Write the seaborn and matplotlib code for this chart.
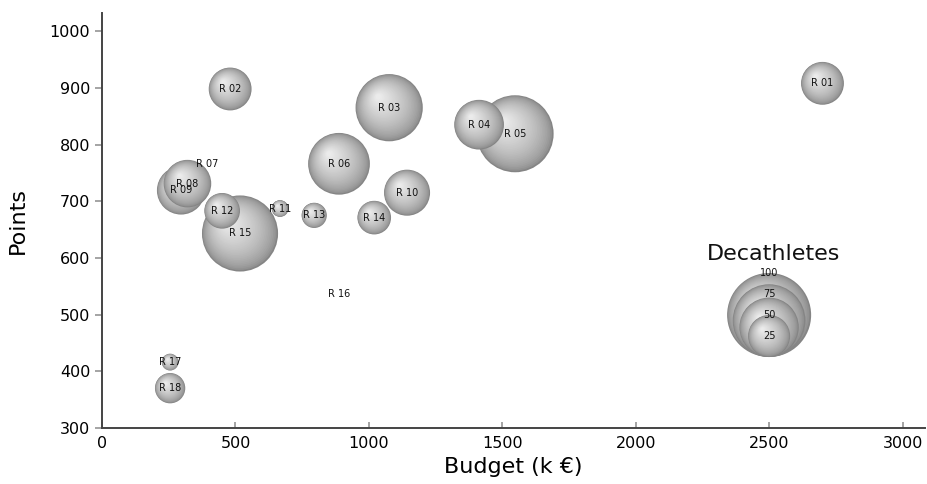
#!/usr/bin/env python3
"""Budget vs. points bubble chart, bubble area = number of decathletes."""

import matplotlib
matplotlib.use("Agg")
import matplotlib.pyplot as plt
import matplotlib.colors as mcolors
import numpy as np
import pandas as pd
import seaborn as sns

teams = ["R 01", "R 02", "R 03", "R 04", "R 05", "R 06", "R 07", "R 08", "R 09",
         "R 10", "R 11", "R 12", "R 13", "R 14", "R 15", "R 16", "R 17", "R 18"]
budget = [2700, 480, 1076, 1413, 1548, 888, 394, 320, 296,
          1143, 667, 450, 795, 1020, 517, 888, 255, 255]
points = [908, 898, 865, 835, 819, 766, 766, 731, 719,
          715, 687, 683, 675, 671, 643, 537, 416, 370]
decathletes = [26, 26, 64, 35, 84, 54, 0, 32, 33,
               30, 4, 18, 9, 16, 82, 0, 4, 13]

legend_values = [100, 75, 50, 25]
legend_x = 2500
legend_base = 425

DPI = 100
MAX_VALUE = 100
MAX_DIAM_PT = 60.5          # marker diameter (points) of a 100-athlete bubble
N_LAYERS = 30

sns.set_theme(style="white")
plt.rcParams["font.family"] = ["DejaVu Sans"]
plt.rcParams["text.color"] = "black"
plt.rcParams["axes.labelcolor"] = "black"
plt.rcParams["xtick.color"] = "black"
plt.rcParams["ytick.color"] = "black"

fig = plt.figure(figsize=(9.28, 4.84), dpi=DPI)
ax = fig.add_axes([0.110, 0.116, 0.887, 0.857])
ax.set_xlim(0, 3085)
ax.set_ylim(300, 1032)

# conversion from points to data units (for placing shaded layers)
pos = ax.get_position()
ax_w_pt = pos.width * fig.get_figwidth() * 72
ax_h_pt = pos.height * fig.get_figheight() * 72
x_per_pt = (ax.get_xlim()[1] - ax.get_xlim()[0]) / ax_w_pt
y_per_pt = (ax.get_ylim()[1] - ax.get_ylim()[0]) / ax_h_pt

df = pd.DataFrame({"team": teams, "budget": budget, "points": points,
                   "n": decathletes})

# legend spheres sit on a common baseline, centres lifted by their radius
leg = pd.DataFrame({"n": legend_values})
leg["budget"] = legend_x
leg["points"] = legend_base + (MAX_DIAM_PT / 2) * np.sqrt(leg["n"] / MAX_VALUE) * y_per_pt

bubbles = pd.concat([df[["budget", "points", "n"]], leg], ignore_index=True)
bubbles = bubbles[bubbles["n"] > 0].sort_values("n", ascending=False, kind="stable")

# build shaded layers: each bubble is a stack of shrinking, lighter discs
rows = []
for _, b in bubbles.iterrows():
    r_pt = (MAX_DIAM_PT / 2) * np.sqrt(b["n"] / MAX_VALUE)
    for k in range(N_LAYERS):
        f = 1 - 0.92 * k / (N_LAYERS - 1)
        shift = (1 - f) * r_pt * 0.35
        rows.append({
            "x": b["budget"] - shift * x_per_pt,
            "y": b["points"] + shift * y_per_pt,
            "s": (2 * r_pt * f) ** 2,
            "g": 0.52 + 0.42 * (1 - f) ** 0.6,
        })
layers = pd.DataFrame(rows)

gray_cmap = mcolors.LinearSegmentedColormap.from_list("gray_lin", ["black", "white"])
smax = MAX_DIAM_PT ** 2
sns.scatterplot(data=layers, x="x", y="y", size="s", sizes=(0, smax),
                size_norm=(0, smax), hue="g", palette=gray_cmap, hue_norm=(0, 1),
                linewidth=0, edgecolor="none", legend=False, ax=ax)

for _, t in df.iterrows():
    ax.text(t["budget"], t["points"], t["team"], fontsize=7, color="#111111",
            ha="center", va="center")

for _, l in leg.iterrows():
    ax.text(legend_x, legend_base + MAX_DIAM_PT * l["n"] / MAX_VALUE * y_per_pt,
            str(int(l["n"])), fontsize=7, color="#111111", ha="center", va="center")
ax.text(legend_x + 15, legend_base + (MAX_DIAM_PT + 14) * y_per_pt, "Decathletes",
        fontsize=16, color="#111111", ha="center", va="center")

ax.set_xticks([0, 500, 1000, 1500, 2000, 2500, 3000])
ax.set_yticks([300, 400, 500, 600, 700, 800, 900, 1000])
ax.tick_params(axis="x", direction="in", length=4, color="#999999", labelsize=11.5,
               labelcolor="black", pad=6, bottom=True)
ax.tick_params(axis="y", direction="out", length=5, color="#999999", labelsize=11.5,
               labelcolor="black", left=True)
ax.set_xlabel("Budget (k €)", fontsize=16, labelpad=4)
ax.set_ylabel("Points", fontsize=16, labelpad=16)

for side in ["top", "right"]:
    ax.spines[side].set_visible(False)
for side in ["left", "bottom"]:
    ax.spines[side].set_color("#444444")
    ax.spines[side].set_linewidth(1.4)
ax.plot(0, 1, marker="^", color="#222222", markersize=4,
        transform=ax.get_yaxis_transform(), clip_on=False)

fig.savefig("out.png", dpi=DPI)
